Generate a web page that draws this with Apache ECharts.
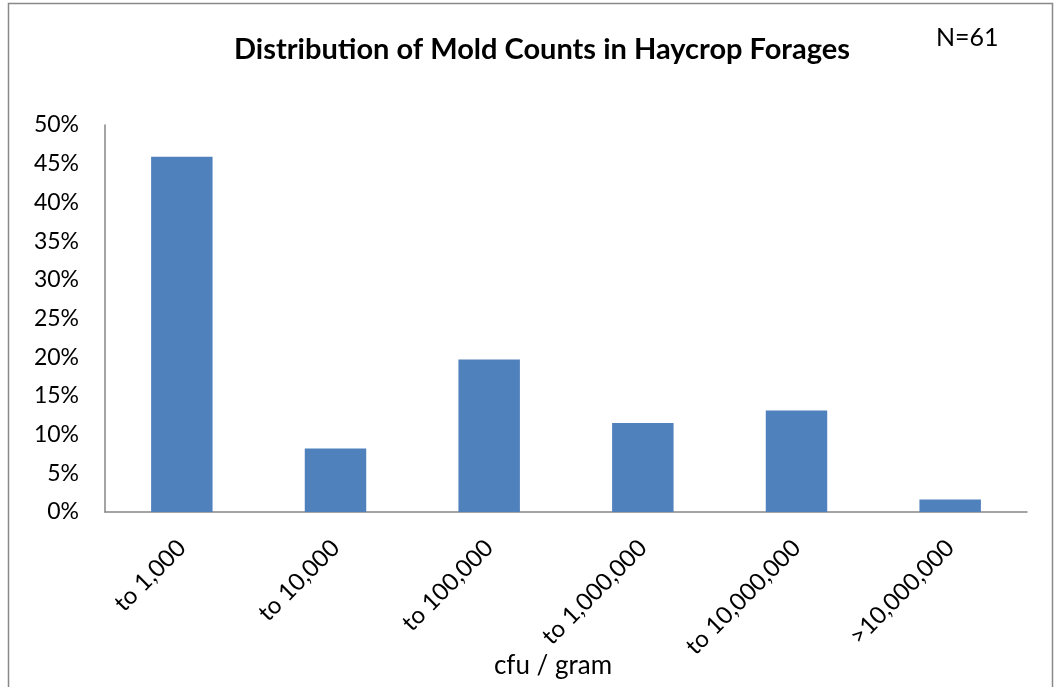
<!DOCTYPE html>
<html>
<head>
<meta charset="utf-8">
<script src="https://cdn.jsdelivr.net/npm/echarts@6/dist/echarts.min.js"></script>
<style>
    html, body { margin: 0; padding: 0; background: #fff; }
    #chart { width: 1056px; height: 687px; }
</style>
</head>
<body>
<div id="chart"></div>
<script>
/* data */
let categories = ['to 1,000', 'to 10,000', 'to 100,000', 'to 1,000,000', 'to 10,000,000', '>10,000,000'];
let percents = [45.9, 8.2, 19.7, 11.5, 13.1, 1.6];
let yTicks = { min: 0, max: 50, interval: 5 };

let font = 'Lato, "Open Sans", sans-serif';
let myChart = echarts.init(document.getElementById('chart'));
let options = {
    animation: false,
    title: [
        {
            text: 'Distribution of Mold Counts in Haycrop Forages',
            left: 537,
            top: 30,
            textAlign: 'center',
            textStyle: { fontFamily: font, fontSize: 29, fontWeight: 'bold', color: '#000' }
        },
        {
            text: 'N=61',
            left: 931,
            top: 20,
            textStyle: { fontFamily: font, fontSize: 25, fontWeight: 'normal', color: '#000' }
        }
    ],
    grid: { left: 105, right: 29, top: 125, bottom: 175, containLabel: false, outerBoundsMode: 'none' },
    xAxis: {
        type: 'category',
        data: categories,
        name: 'cfu / gram',
        nameLocation: 'middle',
        nameGap: 141,
        nameMoveOverlap: false,
        nameTextStyle: { fontFamily: font, fontSize: 26, color: '#000', padding: [0, 26, 0, 0] },
        axisLine: { lineStyle: { color: '#868686', width: 1.5 } },
        axisTick: { show: false },
        axisLabel: {
            rotate: 45,
            margin: 32,
            fontFamily: font,
            fontSize: 24,
            color: '#000',
            interval: 0
        }
    },
    yAxis: {
        type: 'value',
        min: yTicks.min,
        max: yTicks.max,
        interval: yTicks.interval,
        axisLine: { show: true, lineStyle: { color: '#868686', width: 1.5 } },
        axisTick: { show: false },
        splitLine: { show: false },
        axisLabel: {
            formatter: '{value}%',
            margin: 26,
            fontFamily: font,
            fontSize: 23,
            color: '#000'
        }
    },
    series: [
        {
            type: 'bar',
            data: percents,
            barWidth: '40%',
            itemStyle: { color: '#4F81BD' }
        }
    ],
    graphic: [
        {
            type: 'rect',
            shape: { x: 8.5, y: 3.5, width: 1044, height: 720 },
            style: { fill: 'none', stroke: '#898989', lineWidth: 1.5 },
            silent: true
        }
    ]
};
myChart.setOption(options);
</script>
</body>
</html>
